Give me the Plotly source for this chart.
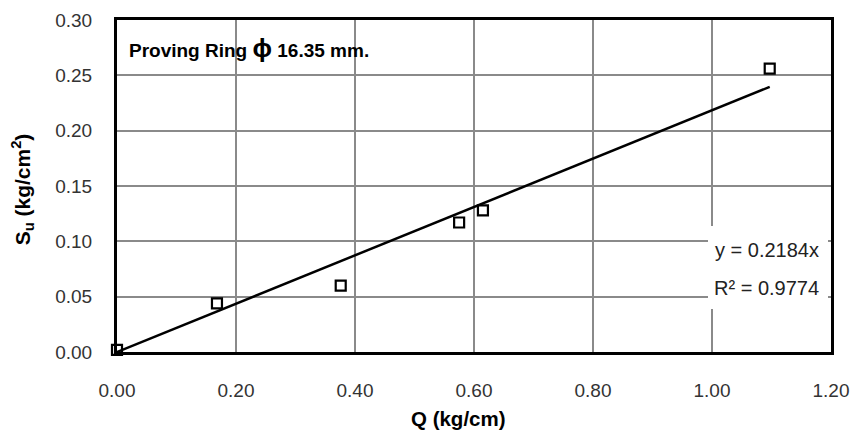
import plotly.graph_objects as go

# Data
Q = [0.0, 0.168, 0.376, 0.575, 0.615, 1.097]
Su = [0.002, 0.044, 0.060, 0.117, 0.128, 0.256]
slope = 0.2184
r2 = 0.9774
trend_x = [0.0, max(Q)]
trend_y = [slope * v for v in trend_x]

x_ticks = [0.0, 0.2, 0.4, 0.6, 0.8, 1.0, 1.2]
y_ticks = [0.0, 0.05, 0.10, 0.15, 0.20, 0.25, 0.30]

FONT = "Liberation Sans, Arial, sans-serif"

fig = go.Figure()
fig.add_trace(go.Scatter(x=trend_x, y=trend_y, mode="lines",
                         line=dict(color="black", width=2.5), showlegend=False))
fig.add_trace(go.Scatter(x=Q, y=Su, mode="markers", cliponaxis=False,
                         marker=dict(symbol="square-open", size=10, color="black",
                                     line=dict(width=2.2, color="black")),
                         showlegend=False))

axis_common = dict(showgrid=True, gridcolor="#8a8a8a", gridwidth=1.5,
                   showline=True, linecolor="black", linewidth=3, mirror=True,
                   zeroline=False, ticks="", tickformat=".2f", automargin=False,
                   tickfont=dict(family=FONT, size=19, color="#333333"))

fig.update_xaxes(range=[0, 1.2], tickvals=x_ticks, ticklabelstandoff=19, **axis_common)
fig.update_yaxes(range=[0, 0.30], tickvals=y_ticks, ticklabelstandoff=18, **axis_common)

# axis titles
fig.add_annotation(xref="paper", yref="paper", x=0.478, y=-0.2, xanchor="center", yanchor="middle",
                   text="<b>Q (kg/cm)</b>", showarrow=False,
                   font=dict(family=FONT, size=20.5, color="black"))
fig.add_annotation(xref="paper", yref="paper", x=-0.133, y=0.49, xanchor="center", yanchor="middle",
                   text="<b>S<sub>u</sub> (kg/cm<sup>2</sup>)</b>", textangle=-90, showarrow=False,
                   font=dict(family=FONT, size=21, color="black"))

# white box behind the regression text
fig.add_annotation(xref="paper", yref="paper", x=0.912, y=0.2545, xanchor="center", yanchor="middle",
                   text=" ", showarrow=False, width=116, height=79, borderpad=2,
                   bgcolor="white", borderwidth=0)

fig.add_annotation(xref="paper", yref="paper", x=0.986, y=0.307, xanchor="right", yanchor="middle",
                   text=f"y = {slope}x", showarrow=False, align="right",
                   font=dict(family=FONT, size=20, color="#222222"))
fig.add_annotation(xref="paper", yref="paper", x=0.986, y=0.193, xanchor="right", yanchor="middle",
                   text=f"R² = {r2}", showarrow=False, align="right",
                   font=dict(family=FONT, size=20, color="#222222"))

fig.add_annotation(xref="paper", yref="paper", x=0.0145, y=0.9157, xanchor="left", yanchor="middle",
                   text="<b>Proving Ring <span style='font-size:26px'>ϕ</span> 16.35 mm.</b>",
                   showarrow=False, font=dict(family=FONT, size=19, color="black"))

fig.update_layout(width=853, height=430, margin=dict(l=117, r=22, t=20, b=78),
                  plot_bgcolor="white", paper_bgcolor="white",
                  font=dict(family=FONT))

fig.write_html("out.html", config={"displayModeBar": False},
               post_script="document.body.style.margin='0';document.body.style.overflow='hidden';")
